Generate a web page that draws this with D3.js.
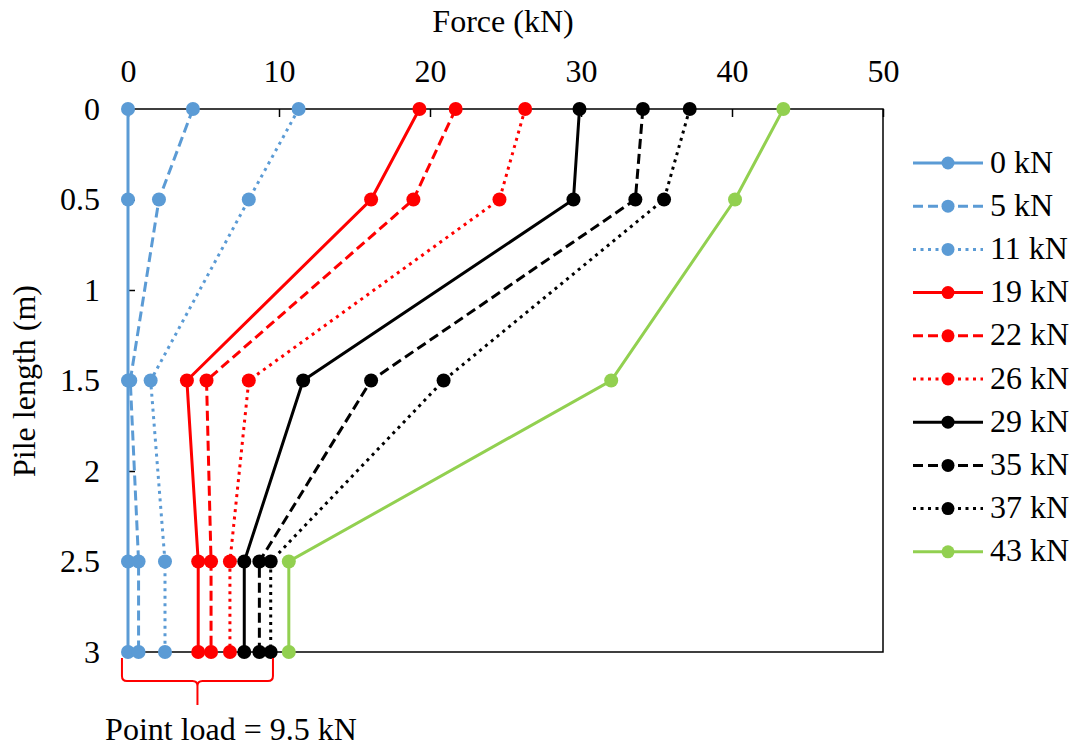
<!DOCTYPE html>
<html>
<head>
<meta charset="utf-8">
<script src="https://cdn.jsdelivr.net/npm/d3@7"></script>
<style>
  html, body { margin: 0; padding: 0; background: #fff; }
  svg { display: block; }
  text { font-family: "Liberation Serif", "Times New Roman", serif; fill: #000; }
</style>
</head>
<body>
<svg id="chart" width="1073" height="748"></svg>
<script>
// ---- data ----
const depths = [0, 0.5, 1.5, 2.5, 3];
const seriesNames = ["0 kN", "5 kN", "11 kN", "19 kN", "22 kN", "26 kN", "29 kN", "35 kN", "37 kN", "43 kN"];
const force0  = [0, 0, 0, 0, 0];
const force5  = [4.3, 2.05, 0.15, 0.7, 0.7];
const force11 = [11.3, 8.0, 1.5, 2.45, 2.45];
const force19 = [19.3, 16.1, 3.9, 4.65, 4.65];
const force22 = [21.7, 18.9, 5.2, 5.5, 5.5];
const force26 = [26.3, 24.6, 8.0, 6.75, 6.75];
const force29 = [29.9, 29.5, 11.6, 7.7, 7.7];
const force35 = [34.1, 33.6, 16.1, 8.7, 8.7];
const force37 = [37.2, 35.5, 20.9, 9.45, 9.45];
const force43 = [43.4, 40.2, 32.0, 10.65, 10.65];
const seriesValues = [force0, force5, force11, force19, force22, force26, force29, force35, force37, force43];
const seriesColors = ["#5B9BD5", "#5B9BD5", "#5B9BD5", "#FF0000", "#FF0000", "#FF0000", "#000000", "#000000", "#000000", "#92D050"];
const seriesStyles = ["solid", "dash", "dot", "solid", "dash", "dot", "solid", "dash", "dot", "solid"];
const xTicks = [0, 10, 20, 30, 40, 50];
const yTicks = [0, 0.5, 1, 1.5, 2, 2.5, 3];
const yTickLabels = ["0", "0.5", "1", "1.5", "2", "2.5", "3"];
const xTitle = "Force (kN)";
const yTitle = "Pile length (m)";
const pointLoad = 9.5;
const annotation = "Point load = 9.5 kN";

// ---- layout ----
const svg = d3.select("#chart");
const x = d3.scaleLinear().domain([0, 50]).range([128, 883]);
const y = d3.scaleLinear().domain([0, 3]).range([109, 652]);
const dashMap = { solid: null, dash: "10,5", dot: "3,4.5" };
const FS = 32;

// frame
svg.append("line").attr("x1", x(0)).attr("x2", x(0)).attr("y1", y(0)).attr("y2", y(3))
  .attr("stroke", "#808080").attr("stroke-width", 1.5);
svg.append("path")
  .attr("d", `M${x(0)},${y(0)} H${x(50)} V${y(3)} H${x(0)}`)
  .attr("fill", "none").attr("stroke", "#000").attr("stroke-width", 1.5);

// top axis
const xAxis = d3.axisTop(x).tickValues(xTicks).tickSize(-8).tickPadding(27).tickFormat(d3.format("d"));
const gx = svg.append("g").attr("transform", `translate(0,${y(0)})`).call(xAxis);
gx.select(".domain").remove();
gx.selectAll(".tick line").attr("stroke", "#000").attr("stroke-width", 1.5);
gx.selectAll(".tick text").attr("font-size", FS).attr("font-family", "Liberation Serif").attr("fill", "#000")
  .attr("dy", "0");

// left axis
const yAxis = d3.axisLeft(y).tickValues(yTicks).tickSize(-7).tickPadding(28)
  .tickFormat((d, i) => yTickLabels[i]);
const gy = svg.append("g").attr("transform", `translate(${x(0)},0)`).call(yAxis);
gy.select(".domain").remove();
gy.selectAll(".tick line").attr("stroke", "#000").attr("stroke-width", 1.5);
gy.selectAll(".tick text").attr("font-size", FS).attr("font-family", "Liberation Serif").attr("fill", "#000")
  .attr("dy", "0.32em");

// titles
svg.append("text").attr("x", 503).attr("y", 32).attr("text-anchor", "middle")
  .attr("font-size", FS).text(xTitle);
svg.append("text").attr("transform", "translate(35,381) rotate(-90)").attr("text-anchor", "middle")
  .attr("font-size", FS).text(yTitle);

// series
const line = d3.line().x(d => x(d[0])).y(d => y(d[1]));
seriesNames.forEach((name, i) => {
  const pts = seriesValues[i].map((v, j) => [v, depths[j]]);
  const g = svg.append("g");
  g.append("path").attr("d", line(pts)).attr("fill", "none")
    .attr("stroke", seriesColors[i]).attr("stroke-width", 3)
    .attr("stroke-dasharray", dashMap[seriesStyles[i]]);
  g.selectAll("circle").data(pts).join("circle")
    .attr("cx", d => x(d[0])).attr("cy", d => y(d[1])).attr("r", 7)
    .attr("fill", seriesColors[i]);
});

// legend
const legY0 = 163, legStep = 43.2;
seriesNames.forEach((name, i) => {
  const ly = legY0 + i * legStep;
  const g = svg.append("g");
  g.append("line").attr("x1", 913).attr("x2", 983).attr("y1", ly).attr("y2", ly)
    .attr("stroke", seriesColors[i]).attr("stroke-width", 3)
    .attr("stroke-dasharray", dashMap[seriesStyles[i]]);
  g.append("circle").attr("cx", 948).attr("cy", ly).attr("r", 6.5).attr("fill", seriesColors[i]);
  g.append("text").attr("x", 990).attr("y", ly).attr("dy", "0.3em").attr("font-size", FS).text(name);
});

// bracket annotation
const bx0 = x(-0.4), bx1 = x(pointLoad + 0.1), bxm = (bx0 + bx1) / 2;
const bTop = 658, bMid = 681, bBot = 705, rr = 5;
svg.append("path")
  .attr("d", `M${bx0},${bTop} V${bMid - rr} Q${bx0},${bMid} ${bx0 + rr},${bMid} H${bxm - rr} Q${bxm},${bMid} ${bxm},${bMid + rr} V${bBot}
              M${bxm},${bMid + rr} Q${bxm},${bMid} ${bxm + rr},${bMid} H${bx1 - rr} Q${bx1},${bMid} ${bx1},${bMid - rr} V${bTop}`)
  .attr("fill", "none").attr("stroke", "#FF0000").attr("stroke-width", 2);
svg.append("text").attr("x", 231).attr("y", 740).attr("text-anchor", "middle")
  .attr("font-size", FS).text(annotation);
</script>
</body>
</html>
